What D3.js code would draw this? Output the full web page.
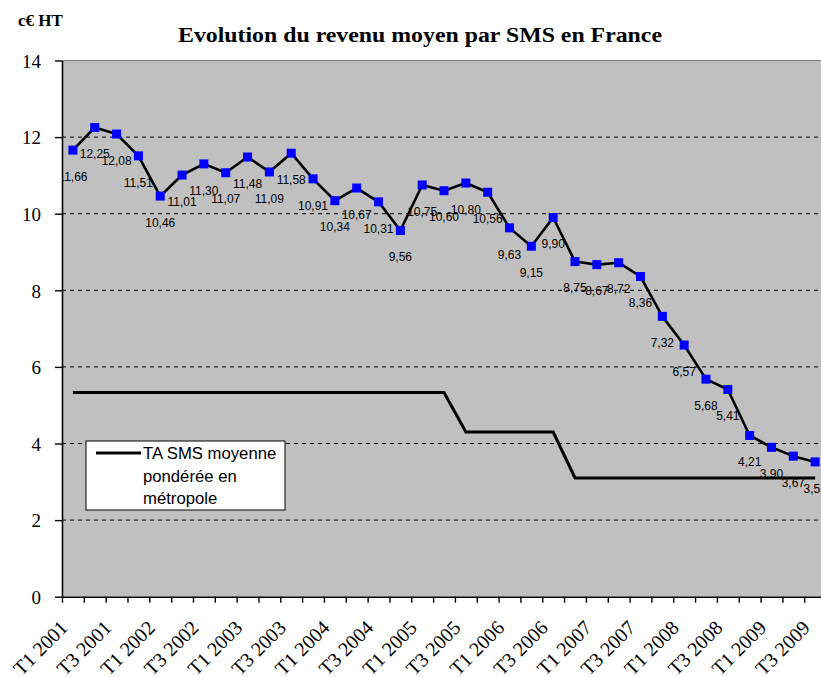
<!DOCTYPE html>
<html>
<head>
<meta charset="utf-8">
<script src="https://cdn.jsdelivr.net/npm/d3@7"></script>
<style>
  body { margin: 0; background: #fff; }
</style>
</head>
<body>
<script>
// quarters T1 2001 .. T3 2009
const quarters = [
  "T1 2001", "T2 2001", "T3 2001", "T4 2001",
  "T1 2002", "T2 2002", "T3 2002", "T4 2002",
  "T1 2003", "T2 2003", "T3 2003", "T4 2003",
  "T1 2004", "T2 2004", "T3 2004", "T4 2004",
  "T1 2005", "T2 2005", "T3 2005", "T4 2005",
  "T1 2006", "T2 2006", "T3 2006", "T4 2006",
  "T1 2007", "T2 2007", "T3 2007", "T4 2007",
  "T1 2008", "T2 2008", "T3 2008", "T4 2008",
  "T1 2009", "T2 2009", "T3 2009"
];

// revenu moyen par SMS (c€ HT)
const revenu = [
  11.66, 12.25, 12.08, 11.51,
  10.46, 11.01, 11.30, 11.07,
  11.48, 11.09, 11.58, 10.91,
  10.34, 10.67, 10.31, 9.56,
  10.75, 10.60, 10.80, 10.56,
  9.63, 9.15, 9.90, 8.75,
  8.67, 8.72, 8.36, 7.32,
  6.57, 5.68, 5.41, 4.21,
  3.90, 3.67, 3.52
];

// TA SMS moyenne pondérée en métropole
const taSms = [
  5.33, 5.33, 5.33, 5.33,
  5.33, 5.33, 5.33, 5.33,
  5.33, 5.33, 5.33, 5.33,
  5.33, 5.33, 5.33, 5.33,
  5.33, 5.33, 4.30, 4.30,
  4.30, 4.30, 4.30, 3.10,
  3.10, 3.10, 3.10, 3.10,
  3.10, 3.10, 3.10, 3.10,
  3.10, 3.10, 3.10
];

const yTicks = [0, 2, 4, 6, 8, 10, 12, 14];
const legendLines = ["TA SMS moyenne", "pondérée en", "métropole"];

const W = 821, H = 677;
const plotLeft = 62, plotTop = 60.5, plotBottom = 596.7, step = 21.83;
const plotRight = plotLeft + step * quarters.length;

const fr = d3.formatLocale({decimal: ",", thousands: " ", grouping: [3], currency: ["", " €"]});
const fmt = fr.format(".2f");

const svg = d3.select("body").append("svg")
  .attr("width", W)
  .attr("height", H)
  .style("display", "block");

const x = d3.scaleBand().domain(quarters).range([plotLeft, plotRight]);
const xi = d3.scaleLinear().domain([0, quarters.length]).range([plotLeft, plotRight]);
const y = d3.scaleLinear().domain([0, 14]).range([plotBottom, plotTop]);
const cx = q => x(q) + x.bandwidth() / 2;

svg.append("defs").append("clipPath").attr("id", "plot")
  .append("rect")
  .attr("x", plotLeft).attr("y", plotTop)
  .attr("width", plotRight - plotLeft).attr("height", plotBottom - plotTop);

// plot area
svg.append("rect")
  .attr("x", plotLeft).attr("y", plotTop)
  .attr("width", plotRight - plotLeft).attr("height", plotBottom - plotTop)
  .attr("fill", "#c0c0c0");
svg.append("line")
  .attr("x1", plotLeft).attr("x2", plotRight)
  .attr("y1", plotTop).attr("y2", plotTop)
  .attr("stroke", "#808080").attr("stroke-width", 1.2);

// grid
svg.append("g")
  .selectAll("line")
  .data(yTicks.filter(t => t > 0 && t < 14))
  .join("line")
  .attr("x1", plotLeft).attr("x2", plotRight)
  .attr("y1", d => y(d)).attr("y2", d => y(d))
  .attr("stroke", "#000")
  .attr("stroke-width", 1)
  .attr("stroke-dasharray", "4,4");

// TA line
svg.append("path")
  .datum(taSms)
  .attr("fill", "none")
  .attr("stroke", "#000")
  .attr("stroke-width", 3)
  .attr("d", d3.line().x((d, i) => cx(quarters[i])).y(d => y(d)));

// data labels (under the line, like the original)
svg.append("g")
  .attr("clip-path", "url(#plot)")
  .selectAll("text")
  .data(revenu)
  .join("text")
  .attr("x", (d, i) => cx(quarters[i]))
  .attr("y", d => y(d) + 26.5)
  .attr("dy", "0.35em")
  .attr("text-anchor", "middle")
  .style("font", "12px 'Liberation Sans', Arial, sans-serif")
  .attr("fill", "#000")
  .text(d => fmt(d));

// revenue line
svg.append("path")
  .datum(revenu)
  .attr("fill", "none")
  .attr("stroke", "#000")
  .attr("stroke-width", 2.6)
  .attr("stroke-linejoin", "round")
  .attr("d", d3.line().x((d, i) => cx(quarters[i])).y(d => y(d)));

svg.append("g")
  .selectAll("rect")
  .data(revenu)
  .join("rect")
  .attr("x", (d, i) => cx(quarters[i]) - 4.5)
  .attr("y", d => y(d) - 4.5)
  .attr("width", 9).attr("height", 9)
  .attr("fill", "#0000ff");

// y axis
const yAxis = svg.append("g")
  .attr("transform", `translate(${plotLeft},0)`)
  .call(d3.axisLeft(y).tickValues(yTicks).tickSize(7).tickSizeOuter(0).tickPadding(14));
yAxis.select(".domain").attr("stroke-width", 1.6);
yAxis.selectAll(".tick line").attr("stroke-width", 1.4);
yAxis.selectAll("text")
  .style("font", "19px 'Liberation Serif', 'Times New Roman', serif")
  .attr("dy", "0.36em");

// x axis: ticks between categories
const xAxis = svg.append("g")
  .attr("transform", `translate(0,${plotBottom})`)
  .call(d3.axisBottom(xi).tickValues(d3.range(0, quarters.length + 1)).tickSize(6).tickSizeOuter(0).tickFormat(""));
xAxis.select(".domain").attr("stroke-width", 1.6);
xAxis.selectAll(".tick line").attr("stroke-width", 1.4);

svg.append("g")
  .selectAll("text")
  .data(quarters.filter((q, i) => i % 2 === 0))
  .join("text")
  .attr("transform", q => `translate(${cx(q) - 4},629) rotate(-45)`)
  .attr("text-anchor", "end")
  .style("font", "20px 'Liberation Serif', 'Times New Roman', serif")
  .text(q => q);

// legend
const lg = svg.append("g");
lg.append("rect")
  .attr("x", 86).attr("y", 441)
  .attr("width", 199).attr("height", 69)
  .attr("fill", "#fff")
  .attr("stroke", "#000").attr("stroke-width", 1);
lg.append("line")
  .attr("x1", 96).attr("x2", 141)
  .attr("y1", 453).attr("y2", 453)
  .attr("stroke", "#000").attr("stroke-width", 3);
lg.selectAll("text.lbl")
  .data(legendLines)
  .join("text")
  .attr("class", "lbl")
  .attr("x", 143)
  .attr("y", (d, i) => 459 + i * 22.5)
  .style("font", "16.7px 'Liberation Sans', Arial, sans-serif")
  .text(d => d);

// titles
svg.append("text")
  .attr("x", 420).attr("y", 42)
  .attr("text-anchor", "middle")
  .attr("textLength", 484)
  .attr("lengthAdjust", "spacingAndGlyphs")
  .style("font", "bold 22px 'Liberation Serif', 'Times New Roman', serif")
  .text("Evolution du revenu moyen par SMS en France");

svg.append("text")
  .attr("x", 18).attr("y", 26)
  .style("font", "bold 17px 'Liberation Serif', 'Times New Roman', serif")
  .text("c€ HT");
</script>
</body>
</html>
